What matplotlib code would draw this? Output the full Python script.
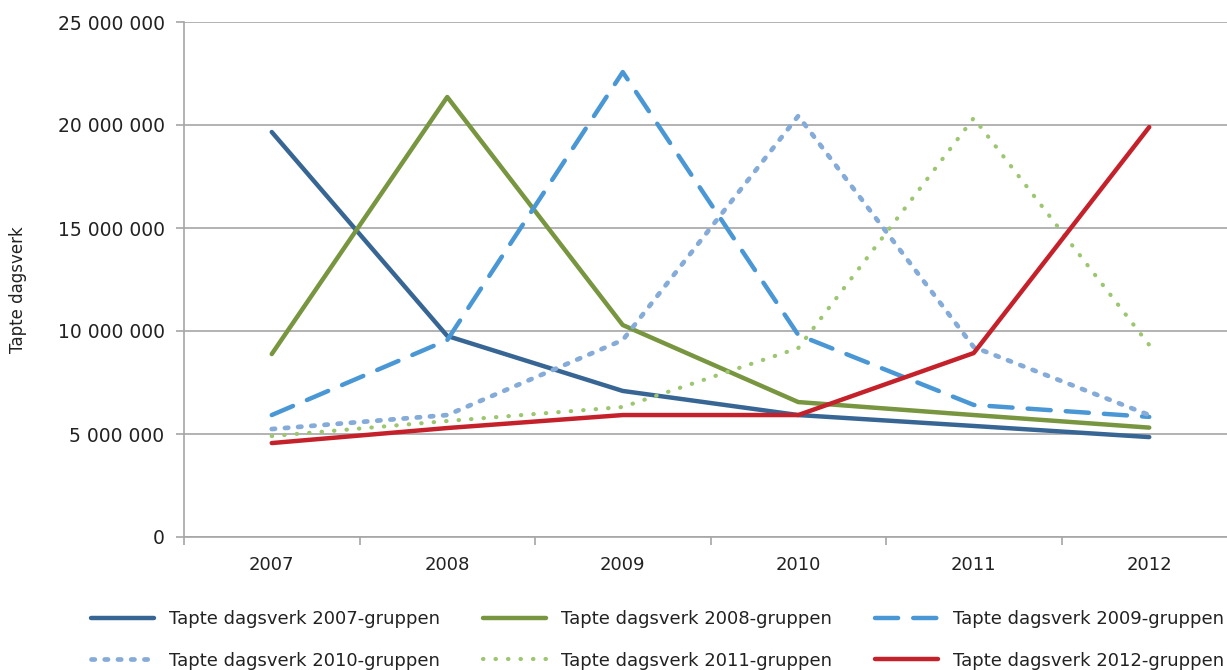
import matplotlib
matplotlib.use("Agg")
import matplotlib.pyplot as plt
from matplotlib.ticker import FuncFormatter, FixedLocator

years = ["2007", "2008", "2009", "2010", "2011", "2012"]
g2007 = [19.66e6, 9.76e6, 7.09e6, 5.92e6, 5.39e6, 4.85e6]
g2008 = [8.88e6, 21.36e6, 10.29e6, 6.55e6, 5.92e6, 5.31e6]
g2009 = [5.92e6, 9.56e6, 22.57e6, 9.81e6, 6.41e6, 5.83e6]
g2010 = [5.24e6, 5.92e6, 9.56e6, 20.44e6, 9.22e6, 5.92e6]
g2011 = [4.90e6, 5.63e6, 6.31e6, 9.17e6, 20.34e6, 9.32e6]
g2012 = [4.56e6, 5.29e6, 5.92e6, 5.92e6, 8.93e6, 19.90e6]
labels = ["Tapte dagsverk 2007-gruppen", "Tapte dagsverk 2008-gruppen",
          "Tapte dagsverk 2009-gruppen", "Tapte dagsverk 2010-gruppen",
          "Tapte dagsverk 2011-gruppen", "Tapte dagsverk 2012-gruppen"]

fig = plt.figure(figsize=(12.27, 6.70), dpi=100)
ax = fig.add_axes([184/1227, 1 - 537/670, (1237 - 184)/1227, (537 - 22)/670])

x = list(range(len(years)))
styles = [
    dict(color="#386694", lw=3.2, ls="-"),
    dict(color="#77963F", lw=3.2, ls="-"),
    dict(color="#4A97D6", lw=3.2, ls=(0, (5.2, 3.4))),
    dict(color="#85ABD9", lw=3.4, ls=(0, (0.7, 2.1))),
    dict(color="#9CC66F", lw=3.0, ls=(0, (0.1, 2.9))),
    dict(color="#C4212B", lw=3.2, ls="-"),
]
series = [g2007, g2008, g2009, g2010, g2011, g2012]
handles = []
for s, st, lab in zip(series, styles, labels):
    h, = ax.plot(x, s, label=lab, solid_capstyle="round", dash_capstyle="round",
                 solid_joinstyle="round", **st)
    handles.append(h)

ax.set_xlim(-0.5, 5.5)
ax.set_ylim(0, 25e6)
ax.set_yticks([0, 5e6, 10e6, 15e6, 20e6, 25e6])
ax.yaxis.set_major_formatter(FuncFormatter(lambda v, p: "0" if v == 0 else f"{int(v):,}".replace(",", " ")))
ax.set_xticks(x)
ax.set_xticklabels(years)
ax.xaxis.set_minor_locator(FixedLocator([i - 0.5 for i in range(7)]))
ax.tick_params(axis="x", which="major", length=0, pad=14, labelsize=13, labelcolor="#222222")
ax.tick_params(axis="x", which="minor", length=6, color="#A6A6A6", width=1.2)
ax.tick_params(axis="y", length=6, color="#A6A6A6", width=1.2, labelsize=13.5, labelcolor="#222222", pad=8)

ax.grid(axis="y", color="#A6A6A6", lw=1.2)
ax.set_axisbelow(True)
for sp in ["top", "right"]:
    ax.spines[sp].set_visible(False)
for sp in ["left", "bottom"]:
    ax.spines[sp].set_color("#A6A6A6")
    ax.spines[sp].set_linewidth(1.2)

fig.text(18/1227, 1 - 290/670, "Tapte dagsverk", rotation=90, va="center", ha="center",
         fontsize=12, color="#222222")

order = [0, 3, 1, 4, 2, 5]
leg = fig.legend([handles[i] for i in order], [labels[i] for i in order], ncol=3, loc="upper left",
                 bbox_to_anchor=(84/1227, 1 - 603/670), frameon=False,
                 prop={"size": 13},
                 handlelength=3.5, handletextpad=0.8, columnspacing=2.4,
                 labelspacing=1.3, borderaxespad=0)
for t in leg.get_texts():
    t.set_color("#222222")

fig.savefig("out.png", dpi=100)
